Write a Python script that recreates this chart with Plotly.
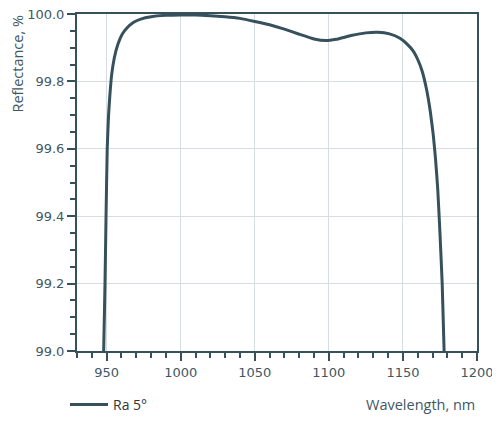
import plotly.graph_objects as go

wavelength = [948.0, 948.9, 949.6, 950.4, 951.3, 952.2, 953.4, 955.2, 957.6, 960.5,
              964.0, 968.0, 973.0, 980.0, 990.0, 1000.0, 1010.0, 1020.0, 1030.0, 1040.0,
              1050.0, 1060.0, 1070.0, 1080.0, 1090.0, 1098.0, 1105.0, 1115.0, 1125.0, 1133.0,
              1141.0, 1148.0, 1153.0, 1157.0, 1160.0, 1163.0, 1166.0, 1168.5, 1170.5, 1172.0,
              1173.5, 1175.0, 1176.5, 1177.8]
reflectance = [99.0, 99.2, 99.4, 99.6, 99.7, 99.76, 99.82, 99.87, 99.91, 99.94,
               99.96, 99.975, 99.985, 99.992, 99.996, 99.997, 99.997, 99.995, 99.992, 99.987,
               99.978, 99.968, 99.955, 99.94, 99.926, 99.921, 99.925, 99.936, 99.944, 99.946,
               99.941, 99.928, 99.91, 99.89, 99.865, 99.83, 99.775, 99.71, 99.64, 99.57,
               99.48, 99.35, 99.2, 99.0]

x_ticks = [950, 1000, 1050, 1100, 1150, 1200]
y_ticks = [99.0, 99.2, 99.4, 99.6, 99.8, 100.0]

DARK = "#36505c"
TEXT = "#3f5864"
GRID = "#d6dde1"
FONT = "Open Sans"
TICK_FONT = "DejaVu Sans"

fig = go.Figure()
fig.add_trace(go.Scatter(
    x=wavelength, y=reflectance, mode="lines", name="Ra 5°",
    line=dict(color=DARK, width=3, shape="spline", smoothing=0.4),
))

axis_common = dict(
    showline=True, linecolor=DARK, linewidth=2, mirror=True,
    showgrid=True, gridcolor=GRID, gridwidth=1,
    ticks="outside", ticklen=8, tickwidth=2, tickcolor=DARK,
    tickfont=dict(family=TICK_FONT, size=13, color=TEXT),
    ticklabeloverflow="allow",
    zeroline=False, automargin=False,
)

fig.update_xaxes(
    range=[930, 1200], tickvals=x_ticks,
    minor=dict(dtick=10, tick0=930, ticks="outside", ticklen=5, tickwidth=2,
               tickcolor=DARK, showgrid=False),
    **axis_common,
)
fig.update_yaxes(
    range=[99.0, 100.0], tickvals=y_ticks, tickformat=".1f",
    minor=dict(dtick=0.05, tick0=99.0, ticks="outside", ticklen=5, tickwidth=2,
               tickcolor=DARK, showgrid=False),
    **axis_common,
)

# y title sits at the top of the axis, x title at the bottom right
fig.add_annotation(
    text="Reflectance, %", xref="paper", yref="paper", x=-0.15, y=1.0,
    xanchor="center", yanchor="top", textangle=-90, showarrow=False,
    font=dict(family=FONT, size=14.5, color=TEXT),
)
fig.add_annotation(
    text="Wavelength, nm", xref="paper", yref="paper", x=1.0, y=-0.16,
    xanchor="right", yanchor="middle", showarrow=False,
    font=dict(family=FONT, size=14.5, color=TEXT),
)

fig.update_layout(
    width=492, height=419,
    margin=dict(l=69, r=23, t=6, b=76, autoexpand=False),
    plot_bgcolor="white", paper_bgcolor="white",
    showlegend=True,
    legend=dict(orientation="h", x=-0.03, y=-0.16, xanchor="left", yanchor="middle",
                itemwidth=38,
                font=dict(family=FONT, size=14, color="#333333")),
)

fig.write_html("out.html")
